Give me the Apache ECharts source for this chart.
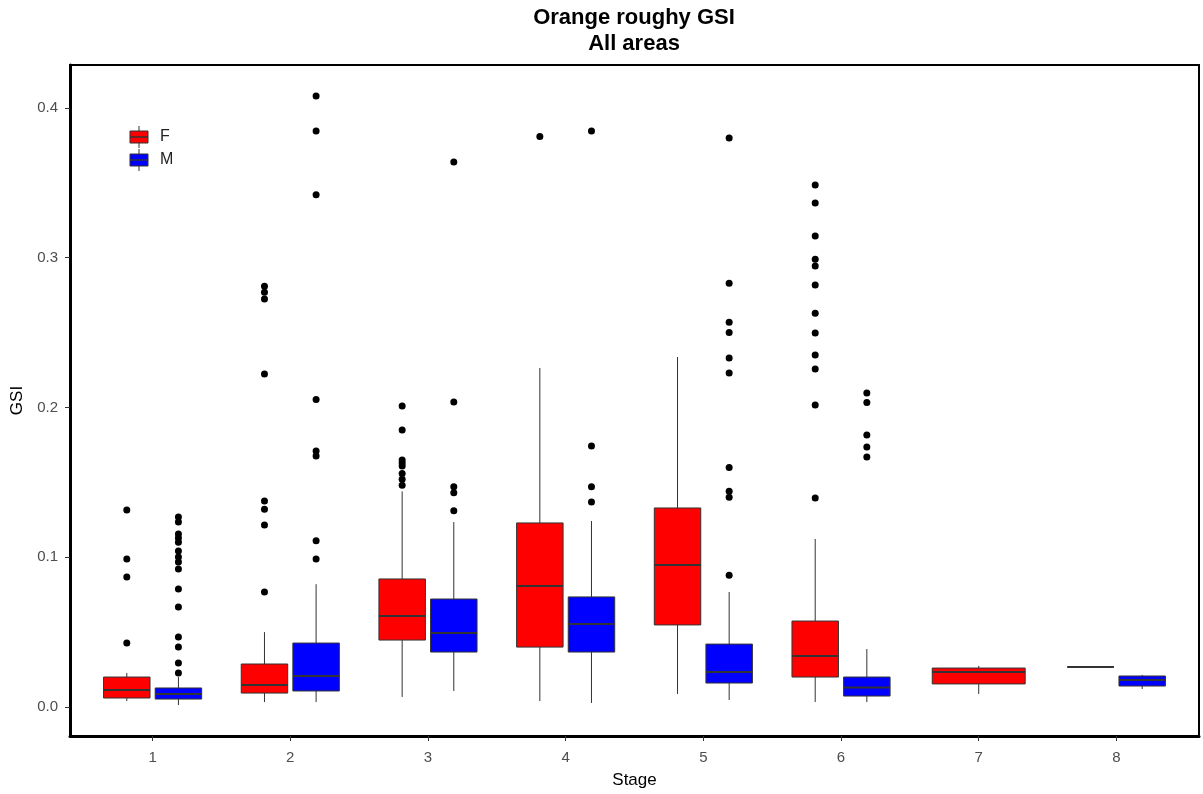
<!DOCTYPE html>
<html>
<head>
<meta charset="utf-8">
<script src="https://cdn.jsdelivr.net/npm/echarts@6/dist/echarts.min.js"></script>
<style>html,body{margin:0;padding:0;background:#fff}#c{width:1203px;height:794px}</style>
</head>
<body>
<div id="c"></div>
<script>
// ---- Data ----
const stages = [1, 2, 3, 4, 5, 6, 7, 8];
const yTicks = [0, 0.1, 0.2, 0.3, 0.4];
const sexes = ['F', 'M'];
// [lower whisker, q1, median, q3, upper whisker]
const statsF = [
  [0.0040, 0.0060, 0.0114, 0.0200, 0.0227],
  [0.0033, 0.0093, 0.0147, 0.0287, 0.0500],
  [0.0067, 0.0447, 0.0608, 0.0855, 0.1440],
  [0.0040, 0.0400, 0.0808, 0.1229, 0.2264],
  [0.0087, 0.0548, 0.0948, 0.1329, 0.2337],
  [0.0033, 0.0200, 0.0340, 0.0574, 0.1122],
  [0.0087, 0.0154, 0.0234, 0.0260, 0.0274],
  [0.0267, 0.0267, 0.0267, 0.0267, 0.0267]
];
const statsM = [
  [0.0013, 0.0053, 0.0087, 0.0127, 0.0200],
  [0.0033, 0.0107, 0.0207, 0.0427, 0.0820],
  [0.0107, 0.0367, 0.0494, 0.0721, 0.1235],
  [0.0027, 0.0367, 0.0554, 0.0735, 0.1242],
  [0.0047, 0.0160, 0.0234, 0.0420, 0.0768],
  [0.0033, 0.0073, 0.0130, 0.0200, 0.0387],
  null,
  [0.0120, 0.0140, 0.0180, 0.0207, 0.0214]
];
const outliersF = [
  [0.1316, 0.0988, 0.0868, 0.0427],
  [0.281, 0.277, 0.2725, 0.2224, 0.1376, 0.132, 0.1215, 0.0768],
  [0.201, 0.185, 0.165, 0.163, 0.161, 0.156, 0.152, 0.148],
  [0.381],
  [],
  [0.3486, 0.3366, 0.3145, 0.299, 0.2945, 0.2818, 0.263, 0.2497, 0.235, 0.2257, 0.2017, 0.1396],
  [],
  []
];
const outliersM = [
  [0.1269, 0.1235, 0.1155, 0.1128, 0.110, 0.1042, 0.1002, 0.0968, 0.0921, 0.0788, 0.0668, 0.0467, 0.0401, 0.0294, 0.0227],
  [0.408, 0.3846, 0.342, 0.2053, 0.171, 0.1676, 0.111, 0.0988],
  [0.364, 0.2037, 0.147, 0.143, 0.131],
  [0.3846, 0.1743, 0.147, 0.1369],
  [0.380, 0.283, 0.257, 0.250, 0.233, 0.223, 0.160, 0.144, 0.140, 0.088],
  [0.2097, 0.2033, 0.1816, 0.1736, 0.167],
  [],
  []
];

// ---- Layout helpers (dodge) ----
const DODGE = 0.75, PAD = 0.1;
function boxData(stats, other, sign) {
  const out = [];
  stats.forEach((s, i) => {
    if (!s) return;
    const n = other[i] ? 2 : 1;
    const w = DODGE / n * (1 - PAD);
    const off = n === 2 ? sign * DODGE / 4 : 0;
    out.push([stages[i] + off, s[0], s[1], s[2], s[3], s[4], w]);
  });
  return out;
}
function outData(outs, stats, other, sign) {
  const out = [];
  outs.forEach((arr, i) => {
    const n = (stats[i] && other[i]) ? 2 : 1;
    const off = n === 2 ? sign * DODGE / 4 : 0;
    arr.forEach(v => out.push([stages[i] + off, v]));
  });
  return out;
}

function renderBox(params, api) {
  const x = api.value(0), lo = api.value(1), q1 = api.value(2), med = api.value(3),
        q3 = api.value(4), hi = api.value(5), w = api.value(6);
  const tl = api.coord([x - w / 2, q3]);
  const br = api.coord([x + w / 2, q1]);
  const pm = api.coord([x, med]);
  const pLo = api.coord([x, lo]);
  const pHi = api.coord([x, hi]);
  const color = api.visual('color');
  const line = '#333333';
  return {
    type: 'group',
    children: [
      { type: 'line', shape: { x1: pHi[0], y1: pHi[1], x2: pHi[0], y2: tl[1] }, style: { stroke: line, lineWidth: 1 } },
      { type: 'line', shape: { x1: pLo[0], y1: br[1], x2: pLo[0], y2: pLo[1] }, style: { stroke: line, lineWidth: 1 } },
      { type: 'rect', shape: { x: tl[0], y: tl[1], width: br[0] - tl[0], height: br[1] - tl[1] },
        style: { fill: color, stroke: line, lineWidth: 1 } },
      { type: 'line', shape: { x1: tl[0], y1: pm[1], x2: br[0], y2: pm[1] }, style: { stroke: line, lineWidth: 2 } }
    ]
  };
}

const colors = { F: '#FF0000', M: '#0000FF' };
const txt = '#4D4D4D';

const chart = echarts.init(document.getElementById('c'), null, { renderer: 'canvas' });
const legendItems = [];
sexes.forEach((s, i) => {
  const cy = 137 + i * 23;
  legendItems.push(
    { type: 'line', shape: { x1: 139, y1: cy - 11, x2: 139, y2: cy + 11 }, style: { stroke: '#333', lineWidth: 1 } },
    { type: 'rect', shape: { x: 130, y: cy - 6, width: 18, height: 12 }, style: { fill: colors[s], stroke: '#333', lineWidth: 1 } },
    { type: 'line', shape: { x1: 130, y1: cy, x2: 148, y2: cy }, style: { stroke: '#333', lineWidth: 1.5 } },
    { type: 'text', x: 160, y: cy, style: { text: s, fill: '#222', font: '16px "Liberation Sans", Arial, sans-serif', textVerticalAlign: 'middle' } }
  );
});

chart.setOption({
  animation: false,
  backgroundColor: '#fff',
  grid: { left: 70, right: 4, top: 65, bottom: 58, show: true, borderColor: '#000', borderWidth: 2, backgroundColor: '#fff' },
  xAxis: {
    type: 'value', min: 0.4, max: 8.6,
    name: 'Stage', nameLocation: 'middle', nameGap: 36,
    nameTextStyle: { color: '#000', fontSize: 17, fontFamily: 'Liberation Sans' },
    axisLine: { show: true, onZero: false, lineStyle: { color: '#000', width: 3 } },
    axisTick: { show: true, length: 5, customValues: stages, lineStyle: { color: '#333' } },
    axisLabel: { customValues: stages, color: txt, fontSize: 15, fontFamily: 'Liberation Sans', margin: 14 },
    splitLine: { show: false }
  },
  yAxis: {
    type: 'value', min: -0.01937, max: 0.4287,
    name: 'GSI', nameLocation: 'middle', nameGap: 42,
    nameTextStyle: { color: '#000', fontSize: 17, fontFamily: 'Liberation Sans' },
    axisLine: { show: true, onZero: false, lineStyle: { color: '#000', width: 3 } },
    axisTick: { show: true, length: 5, customValues: yTicks, lineStyle: { color: '#333' } },
    axisLabel: { customValues: yTicks, color: txt, fontSize: 15, fontFamily: 'Liberation Sans', margin: 12,
      formatter: v => v.toFixed(1) },
    splitLine: { show: false }
  },
  graphic: [
    { type: 'text', x: 634, y: 7, style: { text: 'Orange roughy GSI', fill: '#000', font: 'bold 22px "Liberation Sans", Arial, sans-serif', textAlign: 'center' } },
    { type: 'text', x: 634, y: 33, style: { text: 'All areas', fill: '#000', font: 'bold 22px "Liberation Sans", Arial, sans-serif', textAlign: 'center' } }
  ].concat(legendItems),
  series: [
    { name: 'F', type: 'custom', renderItem: renderBox, itemStyle: { color: colors.F },
      encode: { x: 0, y: [1, 2, 3, 4, 5] }, data: boxData(statsF, statsM, -1), z: 2 },
    { name: 'M', type: 'custom', renderItem: renderBox, itemStyle: { color: colors.M },
      encode: { x: 0, y: [1, 2, 3, 4, 5] }, data: boxData(statsM, statsF, 1), z: 2 },
    { name: 'F outliers', type: 'scatter', symbolSize: 7, itemStyle: { color: '#000', opacity: 1 },
      data: outData(outliersF, statsF, statsM, -1), z: 3 },
    { name: 'M outliers', type: 'scatter', symbolSize: 7, itemStyle: { color: '#000', opacity: 1 },
      data: outData(outliersM, statsM, statsF, 1), z: 3 }
  ]
});
</script>
</body>
</html>
